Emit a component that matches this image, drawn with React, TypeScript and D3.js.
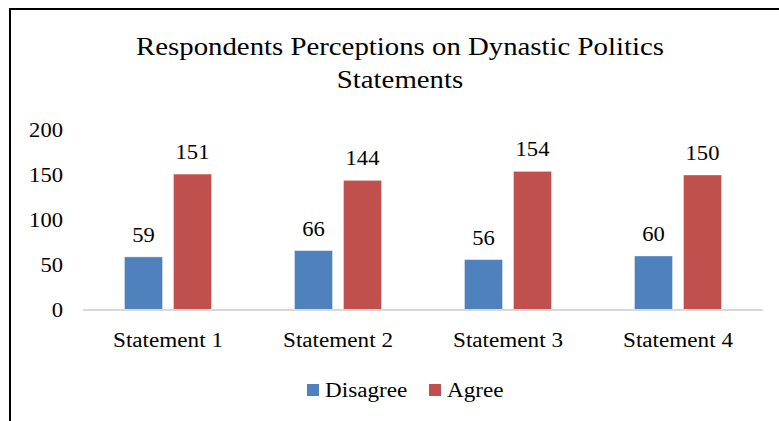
import { useEffect, useRef } from "react"
import * as d3 from "d3"

const categories = ["Statement 1", "Statement 2", "Statement 3", "Statement 4"]
const seriesNames = ["Disagree", "Agree"]
const disagree = [59, 66, 56, 60]
const agree = [151, 144, 154, 150]
const yTicks = [0, 50, 100, 150, 200]
const titleLines = ["Respondents Perceptions on Dynastic Politics", "Statements"]

const colors = ["#4F81BD", "#C0504D"]
const FONT = "Liberation Serif, DejaVu Serif, Times New Roman, serif"
const SX = 1.13 // the reference text is slightly stretched horizontally

export default function App() {
  const svgRef = useRef<SVGSVGElement>(null)

  useEffect(() => {
    if (!svgRef.current) return
    const width = 779
    const height = 421
    const svg = d3.select(svgRef.current)
    svg.selectAll("*").remove()
    svg.attr("width", width).attr("height", height)

    const values = [disagree, agree]

    // outer frame
    svg
      .append("rect")
      .attr("x", 10)
      .attr("y", 9)
      .attr("width", 800)
      .attr("height", 500)
      .attr("fill", "#fff")
      .attr("stroke", "#000")
      .attr("stroke-width", 2)

    const text = (x: number, y: number, s: string, size: number, anchor: string) =>
      svg
        .append("text")
        .attr("transform", `translate(${x},${y}) scale(${SX},1)`)
        .attr("text-anchor", anchor)
        .attr("font-family", FONT)
        .attr("font-size", size)
        .attr("fill", "#000")
        .text(s)

    // title
    titleLines.forEach((t, i) => text(400, 55 + i * 33, t, 25.5, "middle"))

    const x = d3.scaleBand().domain(categories).range([83, 763]).padding(0)
    const xs = d3
      .scaleBand()
      .domain(seriesNames)
      .range([0, x.bandwidth()])
      .paddingInner(0.2245)
      .paddingOuter(0.847)
    const y = d3.scaleLinear().domain([0, 200]).range([310, 130])

    // y tick labels
    yTicks.forEach((t) => text(63, y(t) + 7, String(t), 20, "end"))

    // bars and value labels
    seriesNames.forEach((name, si) => {
      categories.forEach((c, ci) => {
        const v = values[si][ci]
        const bx = (x(c) || 0) + (xs(name) || 0)
        svg
          .append("rect")
          .attr("x", bx)
          .attr("y", y(v))
          .attr("width", xs.bandwidth())
          .attr("height", y(0) - y(v))
          .attr("fill", colors[si])
          .attr("stroke", "rgba(255,255,255,0.35)")
          .attr("stroke-width", 1)
        text(bx + xs.bandwidth() / 2, y(v) - 15, String(v), 20, "middle")
      })
    })

    // baseline
    svg
      .append("line")
      .attr("x1", 83)
      .attr("x2", 763)
      .attr("y1", y(0))
      .attr("y2", y(0))
      .attr("stroke", "#D9D9D9")
      .attr("stroke-width", 2)

    // category labels
    categories.forEach((c) => text((x(c) || 0) + x.bandwidth() / 2, 347, c, 20.5, "middle"))

    // legend
    const legendX = [307, 429]
    seriesNames.forEach((name, i) => {
      svg
        .append("rect")
        .attr("x", legendX[i])
        .attr("y", 384)
        .attr("width", 12)
        .attr("height", 12)
        .attr("fill", colors[i])
      text(legendX[i] + 18, 397, name, 20.5, "start")
    })
  }, [])

  return (
    <>
      <style>{`body{margin:0}`}</style>
      <svg ref={svgRef} style={{ display: "block" }}></svg>
    </>
  )
}
